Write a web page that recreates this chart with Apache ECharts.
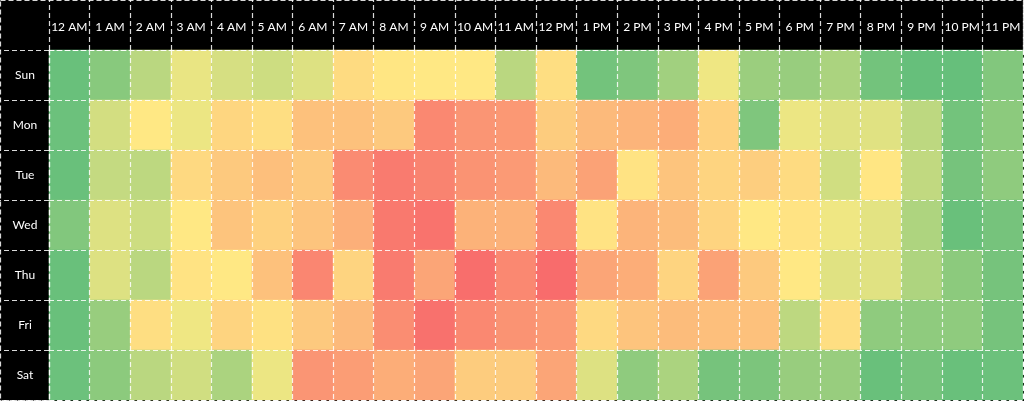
<!DOCTYPE html>
<html>
<head>
<meta charset="utf-8">
<script src="https://cdn.jsdelivr.net/npm/echarts@6/dist/echarts.min.js"></script>
<style>
  html, body { margin: 0; padding: 0; background: #000; }
  #main { width: 1024px; height: 401px; }
</style>
</head>
<body>
<div id="main"></div>
<script>
// hour labels (columns) and day labels (rows)
const hours = ['12 AM', '1 AM', '2 AM', '3 AM', '4 AM', '5 AM', '6 AM', '7 AM', '8 AM', '9 AM', '10 AM', '11 AM',
  '12 PM', '1 PM', '2 PM', '3 PM', '4 PM', '5 PM', '6 PM', '7 PM', '8 PM', '9 PM', '10 PM', '11 PM']
const days = ['Sun', 'Mon', 'Tue', 'Wed', 'Thu', 'Fri', 'Sat']

// relative load per hour, 0 = low (green), 50 = mid (yellow), 100 = high (red)
const sun = [2, 12, 28, 43, 37, 34, 39, 56, 52, 51, 51, 28, 55, 5, 9, 20, 45, 18, 17, 23, 5, 1, 1, 10]
const mon = [3, 36, 51, 44, 58, 55, 66, 66, 63, 88, 83, 82, 62, 69, 71, 74, 60, 9, 44, 40, 40, 29, 5, 13]
const tue = [2, 31, 29, 57, 63, 67, 63, 87, 93, 90, 84, 81, 69, 78, 53, 65, 59, 61, 56, 35, 52, 30, 6, 14]
const wed = [10, 39, 34, 51, 65, 60, 65, 73, 94, 96, 72, 72, 88, 53, 71, 68, 59, 51, 53, 45, 41, 24, 2, 6]
const thu = [2, 39, 28, 53, 51, 66, 89, 59, 93, 77, 98, 88, 99, 77, 74, 59, 78, 63, 51, 40, 40, 24, 13, 6]
const fri = [2, 17, 55, 45, 59, 54, 63, 69, 86, 97, 88, 84, 81, 57, 65, 68, 67, 66, 29, 55, 14, 14, 14, 6]
const sat = [3, 13, 28, 35, 23, 44, 83, 80, 74, 77, 62, 62, 77, 39, 14, 23, 6, 8, 17, 17, 2, 6, 2, 3]

const rows = [sun, mon, tue, wed, thu, fri, sat]
const data = []
rows.forEach((row, d) => {
  row.forEach((v, h) => data.push([h, d, v]))
})

// white dashed grid lines
const dash = { color: 'rgba(255,255,255,0.85)', type: [5, 3], width: 1.2 }

const chart = echarts.init(document.getElementById('main'))
chart.setOption({
  backgroundColor: '#000',
  animation: false,
  grid: { left: 49, top: 50, right: 1, bottom: 1 },
  xAxis: {
    type: 'category',
    data: hours,
    position: 'top',
    z: 5,
    axisLine: { show: true, lineStyle: dash },
    axisTick: { show: true, length: 50, lineStyle: dash },
    splitLine: { show: true, lineStyle: dash },
    axisLabel: { color: '#fff', fontFamily: 'Lato', fontSize: 12, margin: 17, interval: 0 }
  },
  yAxis: {
    type: 'category',
    data: days,
    inverse: true,
    z: 5,
    axisLine: { show: true, lineStyle: dash },
    axisTick: { show: true, length: 49, lineStyle: dash },
    splitLine: { show: true, lineStyle: dash },
    axisLabel: { color: '#fff', fontFamily: 'Lato', fontSize: 12, margin: 24, align: 'center' }
  },
  visualMap: {
    show: false,
    min: 0,
    max: 100,
    inRange: { color: ['#63BE7B', '#FFEB84', '#F8696B'] }
  },
  series: [{
    type: 'heatmap',
    data: data,
    itemStyle: { borderWidth: 0 }
  }],
  graphic: [{
    type: 'rect',
    shape: { x: 0.5, y: 0.5, width: 1023, height: 400 },
    style: { fill: null, stroke: 'rgba(255,255,255,0.85)', lineWidth: 1.2, lineDash: [5, 3] },
    z: 10
  }]
})
</script>
</body>
</html>
